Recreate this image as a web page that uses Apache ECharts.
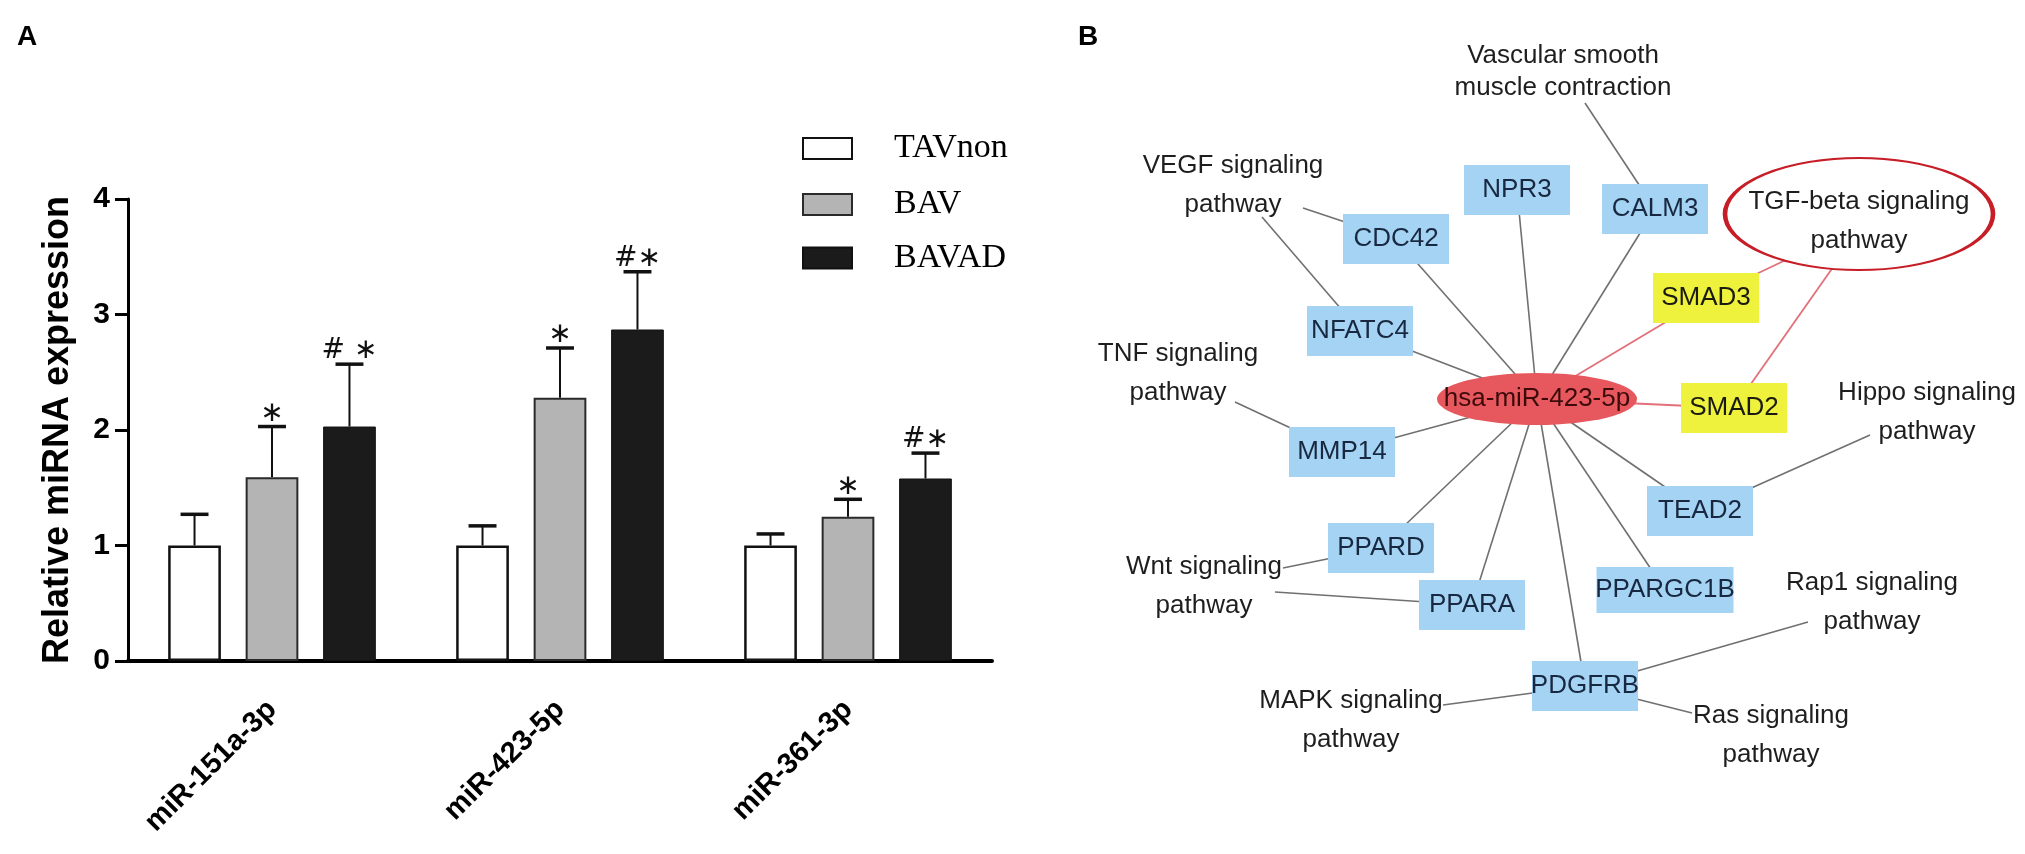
<!DOCTYPE html>
<html lang="en">
<head>
    <meta charset="utf-8">
    <title>miRNA expression and network</title>
    <script src="https://cdn.jsdelivr.net/npm/echarts@6/dist/echarts.min.js"></script>
    <style type="text/css">
        html, body { margin: 0; padding: 0; background: #fff; }
        #container { width: 2025px; height: 854px; }
    </style>
</head>
<body>
<div id="container"></div>
<script>
    // panel A data
    var categories = ['miR-151a-3p', 'miR-423-5p', 'miR-361-3p'];
    var groups = ['TAVnon', 'BAV', 'BAVAD'];
    var tavnonMean = [1.00, 1.00, 1.00];
    var tavnonUpper = [1.27, 1.17, 1.10];
    var bavMean = [1.59, 2.28, 1.25];
    var bavUpper = [2.03, 2.71, 1.40];
    var bavadMean = [2.03, 2.87, 1.58];
    var bavadUpper = [2.57, 3.37, 1.80];
    var tavnonMarks = ['', '', ''];
    var bavMarks = ['\u2217', '\u2217', '\u2217'];
    var bavadMarks = ['# \u2217', '#\u2217', '#\u2217'];

    // panel B data
    var hub = 'hsa-miR-423-5p';
    var genes = ['CDC42', 'NPR3', 'CALM3', 'NFATC4', 'MMP14', 'PPARD', 'PPARA', 'PDGFRB', 'PPARGC1B', 'TEAD2', 'SMAD3', 'SMAD2'];
    var tgfGenes = ['SMAD3', 'SMAD2'];
    var pathways = ['Vascular', 'VEGF', 'TNF', 'Wnt', 'MAPK', 'Ras', 'Rap1', 'Hippo', 'TGF'];
    var pathwayNames = {
        Vascular: 'Vascular smooth\nmuscle contraction',
        VEGF: 'VEGF signaling\npathway',
        TNF: 'TNF signaling\npathway',
        Wnt: 'Wnt signaling\npathway',
        MAPK: 'MAPK signaling\npathway',
        Ras: 'Ras signaling\npathway',
        Rap1: 'Rap1 signaling\npathway',
        Hippo: 'Hippo signaling\npathway',
        TGF: 'TGF-beta signaling\npathway'
    };
    var pathwayLinks = [
        ['Vascular', 'CALM3'], ['VEGF', 'CDC42'], ['VEGF', 'NFATC4'], ['TNF', 'MMP14'],
        ['Wnt', 'PPARD'], ['Wnt', 'PPARA'], ['MAPK', 'PDGFRB'], ['Rap1', 'PDGFRB'],
        ['Ras', 'PDGFRB'], ['Hippo', 'TEAD2'], ['TGF', 'SMAD3'], ['TGF', 'SMAD2']
    ];

    // network layout (drawn in a hidden value grid)
    var nodePos = {
        'hsa-miR-423-5p': [1537, 399],
        CDC42: [1396, 239], NPR3: [1517, 190], CALM3: [1655, 209], NFATC4: [1360, 331],
        MMP14: [1342, 452], PPARD: [1381, 548], PPARA: [1472, 605], PDGFRB: [1585, 686],
        PPARGC1B: [1665, 590], TEAD2: [1700, 511], SMAD3: [1706, 298], SMAD2: [1734, 408],
        Vascular: [1563, 72], VEGF: [1233, 185], TNF: [1178, 373], Wnt: [1204, 586],
        MAPK: [1351, 720], Ras: [1771, 735], Rap1: [1872, 602], Hippo: [1927, 412], TGF: [1859, 214]
    };
    // where each pathway edge leaves its label
    var linkAnchor = {
        'Vascular-CALM3': [1585, 103], 'VEGF-CDC42': [1303, 208], 'VEGF-NFATC4': [1262, 217],
        'TNF-MMP14': [1235, 402], 'Wnt-PPARD': [1283, 568], 'Wnt-PPARA': [1275, 592],
        'MAPK-PDGFRB': [1443, 705], 'Rap1-PDGFRB': [1808, 622], 'Ras-PDGFRB': [1692, 713],
        'Hippo-TEAD2': [1870, 435], 'TGF-SMAD3': [1813, 247], 'TGF-SMAD2': [1843, 253]
    };

    var dom = document.getElementById('container');
    var myChart = echarts.init(dom);

    var BAR_W = 0.183, BAR_GAP = 0.47;
    var means = [tavnonMean, bavMean, bavadMean];
    var uppers = [tavnonUpper, bavUpper, bavadUpper];
    var marks = [tavnonMarks, bavMarks, bavadMarks];
    var errData = [];
    for (var s = 0; s < 3; s++) {
        for (var i = 0; i < categories.length; i++) {
            errData.push([i, s, means[s][i], uppers[s][i]]);
        }
    }

    // graph: links layer
    var linkNodes = [];
    var allNames = [hub].concat(genes).concat(pathways);
    allNames.forEach(function (n) {
        linkNodes.push({ name: n, value: nodePos[n] });
    });
    var links = [];
    genes.forEach(function (g) {
        var red = tgfGenes.indexOf(g) >= 0;
        links.push({ source: hub, target: g,
            lineStyle: { color: red ? '#e2707a' : '#707070', width: red ? 1.8 : 1.6, opacity: 1 } });
    });
    pathwayLinks.forEach(function (p) {
        var id = p[0] + '-' + p[1];
        linkNodes.push({ name: id, value: linkAnchor[id] });
        var red = p[0] === 'TGF';
        links.push({ source: id, target: p[1],
            lineStyle: { color: red ? '#e2707a' : '#707070', width: red ? 1.8 : 1.6, opacity: 1 } });
    });

    // graph: node layer
    var shownNodes = [];
    shownNodes.push({
        name: hub, value: nodePos[hub], symbol: 'circle', symbolSize: [200, 52],
        itemStyle: { color: '#e6585d' },
        label: { color: '#3d0a0a' }
    });
    genes.forEach(function (g) {
        var yellow = tgfGenes.indexOf(g) >= 0;
        shownNodes.push({
            name: g, value: nodePos[g], symbol: 'rect',
            symbolSize: g === 'PPARGC1B' ? [137, 46] : [106, 50],
            itemStyle: { color: yellow ? '#eef23c' : '#a5d3f4' },
            label: { color: yellow ? '#1a1a10' : '#182840' }
        });
    });
    pathways.forEach(function (p) {
        var tgf = p === 'TGF';
        shownNodes.push({
            name: pathwayNames[p], value: nodePos[p], symbol: 'circle',
            symbolSize: tgf ? [268, 112] : 1,
            itemStyle: tgf ? { color: '#fff', borderColor: '#c61d26', borderWidth: 3 } : { color: 'rgba(0,0,0,0)' },
            label: { color: '#1e1e1e', lineHeight: p === 'Vascular' ? 32 : 39, offset: tgf ? [0, 7] : [0, 0] }
        });
    });

    var axisFont = { fontFamily: 'Liberation Sans', fontWeight: 'bold', color: '#000' };

    // one legend per group so each label can sit where the figure puts it
    var legendTops = [123, 177, 222];
    var legendPads = [[7, 0, 0, 37], [0, 0, 11, 37], [0, 0, 28, 37]];
    var legends = groups.map(function (g, k) {
        return {
            data: [g],
            orient: 'vertical',
            left: 797,
            top: legendTops[k],
            icon: 'rect',
            itemWidth: 49,
            itemHeight: 21,
            textStyle: { fontFamily: 'Liberation Serif', fontSize: 34, lineHeight: 34, color: '#000', padding: legendPads[k] }
        };
    });

    var option = {
        animation: false,
        backgroundColor: '#fff',
        textStyle: { fontFamily: 'Liberation Sans' },
        title: [
            { text: 'A', left: 12, top: 18, textStyle: { fontSize: 28, fontWeight: 'bold', color: '#000' } },
            { text: 'B', left: 1073, top: 18, textStyle: { fontSize: 28, fontWeight: 'bold', color: '#000' } }
        ],
        legend: legends,
        grid: [
            { left: 128, right: 1033, top: 199, bottom: 193 },
            { left: 0, right: 0, top: 0, bottom: 0 }
        ],
        xAxis: [
            {
                type: 'category',
                gridIndex: 0,
                data: categories,
                axisLine: { lineStyle: { color: '#000', width: 4 } },
                axisTick: { alignWithLabel: true, length: 14, lineStyle: { color: '#000', width: 3 } },
                axisLabel: Object.assign({ fontSize: 29, rotate: 45, margin: 44, interval: 0 }, axisFont)
            },
            { type: 'value', gridIndex: 1, min: 0, max: 2025, show: false }
        ],
        yAxis: [
            {
                type: 'value',
                gridIndex: 0,
                min: 0,
                max: 4,
                interval: 1,
                name: 'Relative miRNA expression',
                nameLocation: 'middle',
                nameGap: 52,
                nameTextStyle: { fontSize: 36, fontWeight: 'bold', color: '#000', fontFamily: 'Liberation Sans' },
                splitLine: { show: false },
                axisLine: { show: true, lineStyle: { color: '#000', width: 3 } },
                axisTick: { show: true, length: 13, lineStyle: { color: '#000', width: 3 } },
                axisLabel: Object.assign({ fontSize: 30, margin: 18 }, axisFont)
            },
            { type: 'value', gridIndex: 1, min: 0, max: 854, inverse: true, show: false }
        ],
        series: [
            {
                name: 'TAVnon', type: 'bar', xAxisIndex: 0, yAxisIndex: 0,
                barWidth: (BAR_W * 100) + '%', barGap: (BAR_GAP * 100) + '%',
                itemStyle: { color: '#fff', borderColor: '#111', borderWidth: 2.5 },
                data: tavnonMean
            },
            {
                name: 'BAV', type: 'bar', xAxisIndex: 0, yAxisIndex: 0,
                barWidth: (BAR_W * 100) + '%', barGap: (BAR_GAP * 100) + '%',
                itemStyle: { color: '#b3b4b3', borderColor: '#2a2a2a', borderWidth: 2 },
                data: bavMean
            },
            {
                name: 'BAVAD', type: 'bar', xAxisIndex: 0, yAxisIndex: 0,
                barWidth: (BAR_W * 100) + '%', barGap: (BAR_GAP * 100) + '%',
                itemStyle: { color: '#1b1b1b', borderColor: '#111', borderWidth: 1 },
                data: bavadMean
            },
            {
                type: 'custom', xAxisIndex: 0, yAxisIndex: 0, z: 5,
                encode: { x: 0, y: 3 },
                data: errData,
                renderItem: function (params, api) {
                    var cat = api.value(0), s = api.value(1);
                    var band = api.size([1, 0])[0];
                    var bw = band * BAR_W;
                    var off = (s - 1) * bw * (1 + BAR_GAP);
                    var base = api.coord([cat, api.value(2)]);
                    var hi = api.coord([cat, api.value(3)]);
                    var x = base[0] + off;
                    var cap = bw * 0.53;
                    var children = [
                        { type: 'line', shape: { x1: x, y1: base[1], x2: x, y2: hi[1] }, style: { stroke: '#111', lineWidth: 2 } },
                        { type: 'line', shape: { x1: x - cap / 2, y1: hi[1], x2: x + cap / 2, y2: hi[1] }, style: { stroke: '#111', lineWidth: 3.5 } }
                    ];
                    var m = marks[s][cat];
                    if (m) {
                        children.push({ type: 'text', style: {
                            text: m, x: x, y: hi[1] - 13, align: 'center', verticalAlign: 'middle',
                            fontSize: 28, fontFamily: 'DejaVu Sans', fill: '#111'
                        } });
                    }
                    return { type: 'group', children: children };
                }
            },
            {
                type: 'graph', layout: 'none', coordinateSystem: 'cartesian2d',
                xAxisIndex: 1, yAxisIndex: 1, z: 2, silent: true,
                symbolSize: 0,
                label: { show: false },
                data: linkNodes,
                links: links
            },
            {
                type: 'graph', layout: 'none', coordinateSystem: 'cartesian2d',
                xAxisIndex: 1, yAxisIndex: 1, z: 3, silent: true,
                label: { show: true, position: 'inside', fontSize: 26, fontFamily: 'Liberation Sans' },
                data: shownNodes,
                links: []
            }
        ]
    };

    if (option && typeof option === "object") {
        myChart.setOption(option, true);
    }
</script>
</body>
</html>
